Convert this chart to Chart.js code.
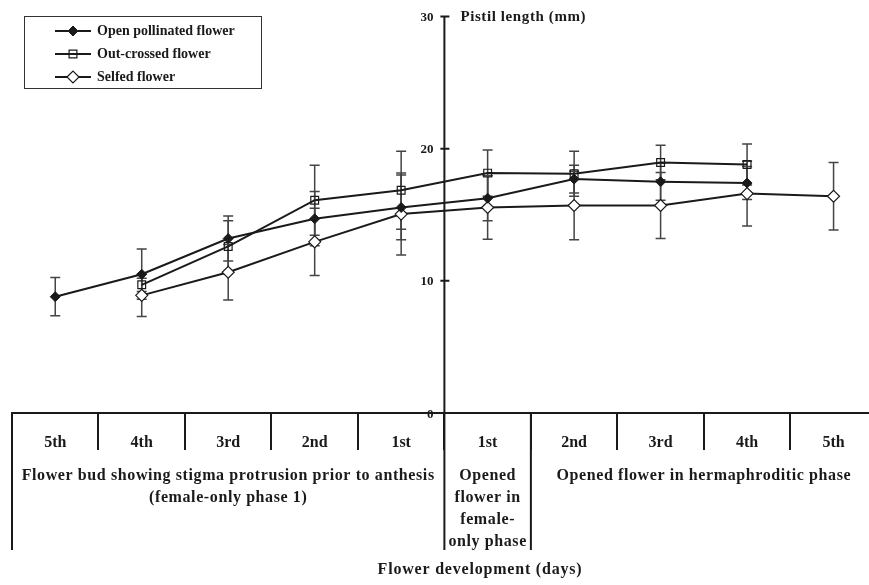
<!DOCTYPE html>
<html>
<head>
<meta charset="utf-8">
<script src="https://cdn.jsdelivr.net/npm/chart.js@4.4.1/dist/chart.umd.min.js"></script>
<style>
  html, body { margin: 0; padding: 0; background: #fff; overflow: hidden; }
  canvas { display: block; }
</style>
</head>
<body>
<canvas id="canvas" width="884" height="585"></canvas>
<script>
// flower development stages (days)
var days = ['5th', '4th', '3rd', '2nd', '1st', '1st', '2nd', '3rd', '4th', '5th'];
var yTicks = [0, 10, 20, 30];

// pistil length (mm), mean and error
var openPollinated    = [8.8, 10.5, 13.2, 14.7, 15.55, 16.25, 17.7, 17.5, 17.4, null];
var openPollinatedErr = [1.45, 1.9, 1.7, 2.05, 2.45, 1.7, 1.05, 1.4, 1.25, null];
var outCrossed        = [null, 9.7, 12.6, 16.1, 16.85, 18.15, 18.1, 18.95, 18.8, null];
var outCrossedErr     = [null, 0.5, 1.95, 2.65, 2.95, 1.75, 1.7, 1.3, 1.55, null];
var selfed            = [null, 8.9, 10.65, 12.95, 15.05, 15.55, 15.7, 15.7, 16.6, 16.4];
var selfedErr         = [null, 1.6, 2.1, 2.55, 3.1, 2.4, 2.6, 2.5, 2.45, 2.55];

var phases = [
  { from: 0, to: 4, lines: ['Flower bud showing stigma protrusion prior to anthesis', '(female-only phase 1)'] },
  { from: 5, to: 5, lines: ['Opened', 'flower in', 'female-', 'only phase'] },
  { from: 6, to: 9, lines: ['Opened flower in hermaphroditic phase'] }
];

var INK = '#1a1a1a';
var SERIF = '"Liberation Serif", "DejaVu Serif", serif';

Chart.defaults.font.family = SERIF;
Chart.defaults.font.weight = 'bold';
Chart.defaults.color = INK;

// error bars behind the points
var errorBars = {
  id: 'errorBars',
  beforeDatasetsDraw: function(chart) {
    var ctx = chart.ctx, xs = chart.scales.x, ys = chart.scales.y;
    ctx.save();
    ctx.strokeStyle = '#444';
    ctx.lineWidth = 1.5;
    chart.data.datasets.forEach(function(ds) {
      ds.data.forEach(function(v, i) {
        var e = ds.errors[i];
        if (v === null || e === null) return;
        var x = xs.getPixelForValue(i);
        var y1 = ys.getPixelForValue(v + e), y2 = ys.getPixelForValue(v - e);
        ctx.beginPath();
        ctx.moveTo(x, y1); ctx.lineTo(x, y2);
        ctx.moveTo(x - 5, y1); ctx.lineTo(x + 5, y1);
        ctx.moveTo(x - 5, y2); ctx.lineTo(x + 5, y2);
        ctx.stroke();
      });
    });
    ctx.restore();
  }
};

// centre y axis, phase table, titles, legend
var decorations = {
  id: 'decorations',
  afterDraw: function(chart) {
    var ctx = chart.ctx, xs = chart.scales.x, ys = chart.scales.y, area = chart.chartArea;
    var bottom = area.bottom + 137;
    var axisX = xs.getPixelForValue(4.5);
    ctx.save();
    ctx.strokeStyle = INK;
    ctx.fillStyle = INK;

    // y axis in the middle
    ctx.lineWidth = 2;
    ctx.beginPath();
    ctx.moveTo(axisX, ys.getPixelForValue(30));
    ctx.lineTo(axisX, bottom);
    yTicks.forEach(function(t) {
      var y = ys.getPixelForValue(t);
      ctx.moveTo(axisX - 4, y); ctx.lineTo(axisX + 5, y);
    });
    // long separators of the phase table
    [0, 6].forEach(function(i) {
      var x = xs.getPixelForValue(i - 0.5);
      ctx.moveTo(x, area.bottom); ctx.lineTo(x, bottom);
    });
    ctx.stroke();

    ctx.font = 'bold 13px ' + SERIF;
    ctx.textAlign = 'right';
    ctx.textBaseline = 'middle';
    yTicks.forEach(function(t) {
      ctx.fillText(String(t), axisX - 11, ys.getPixelForValue(t) + (t === 0 ? 2 : 1));
    });
    ctx.letterSpacing = '0.6px';
    ctx.font = 'bold 15px ' + SERIF;
    ctx.textAlign = 'left';
    ctx.fillText('Pistil length (mm)', axisX + 16, ys.getPixelForValue(30) + 1);

    // phase labels
    ctx.font = 'bold 16px ' + SERIF;
    ctx.textAlign = 'center';
    phases.forEach(function(p) {
      var cx = (xs.getPixelForValue(p.from - 0.5) + xs.getPixelForValue(p.to + 0.5)) / 2;
      p.lines.forEach(function(line, k) {
        ctx.fillText(line, cx, area.bottom + 63 + k * 22);
      });
    });

    // x title
    ctx.letterSpacing = '0.8px';
    ctx.fillText('Flower development (days)', 480, area.bottom + 157);
    ctx.letterSpacing = '0px';

    // legend
    ctx.lineWidth = 1;
    ctx.strokeStyle = '#333';
    ctx.strokeRect(24.5, 16.5, 237, 72);
    ctx.font = 'bold 14px ' + SERIF;
    ctx.textAlign = 'left';
    chart.data.datasets.forEach(function(ds, k) {
      var y = 31 + k * 23;
      ctx.strokeStyle = INK;
      ctx.lineWidth = 2;
      ctx.beginPath();
      ctx.moveTo(55, y); ctx.lineTo(91, y);
      ctx.stroke();
      ctx.fillStyle = ds.pointBackgroundColor;
      ctx.strokeStyle = ds.pointBorderColor;
      ctx.lineWidth = ds.pointBorderWidth;
      Chart.helpers.drawPoint(ctx, {
        pointStyle: ds.pointStyle, radius: ds.pointRadius, rotation: 0, borderWidth: ds.pointBorderWidth
      }, 73, y);
      ctx.fillStyle = INK;
      ctx.fillText(ds.label, 97, y);
    });
    ctx.restore();
  }
};

new Chart(document.getElementById('canvas'), {
  type: 'line',
  data: {
    labels: days,
    datasets: [
      {
        label: 'Open pollinated flower',
        data: openPollinated,
        errors: openPollinatedErr,
        borderColor: INK, borderWidth: 2,
        pointStyle: 'rectRot', pointRadius: 5,
        pointBackgroundColor: INK, pointBorderColor: INK, pointBorderWidth: 1
      },
      {
        label: 'Out-crossed flower',
        data: outCrossed,
        errors: outCrossedErr,
        borderColor: INK, borderWidth: 2,
        pointStyle: 'rect', pointRadius: 5.5,
        pointBackgroundColor: 'rgba(0,0,0,0)', pointBorderColor: INK, pointBorderWidth: 1.2
      },
      {
        label: 'Selfed flower',
        data: selfed,
        errors: selfedErr,
        borderColor: INK, borderWidth: 2,
        pointStyle: 'rectRot', pointRadius: 6,
        pointBackgroundColor: '#fff', pointBorderColor: INK, pointBorderWidth: 1.2
      }
    ]
  },
  options: {
    responsive: false,
    devicePixelRatio: 1,
    animation: false,
    layout: { padding: { top: 16.5, left: 12, right: 2, bottom: 0 } },
    plugins: { legend: { display: false }, tooltip: { enabled: false } },
    scales: {
      x: {
        offset: true,
        grid: { offset: true, drawOnChartArea: false, color: INK, lineWidth: 2, tickLength: 37 },
        border: { display: true, color: INK, width: 2 },
        ticks: { padding: -17, font: { size: 16, weight: 'bold' }, color: INK, maxRotation: 0, autoSkip: false },
        afterFit: function(scale) { scale.height = 172; }
      },
      y: {
        display: false,
        min: 0, max: 30
      }
    }
  },
  plugins: [errorBars, decorations]
});
</script>
</body>
</html>
